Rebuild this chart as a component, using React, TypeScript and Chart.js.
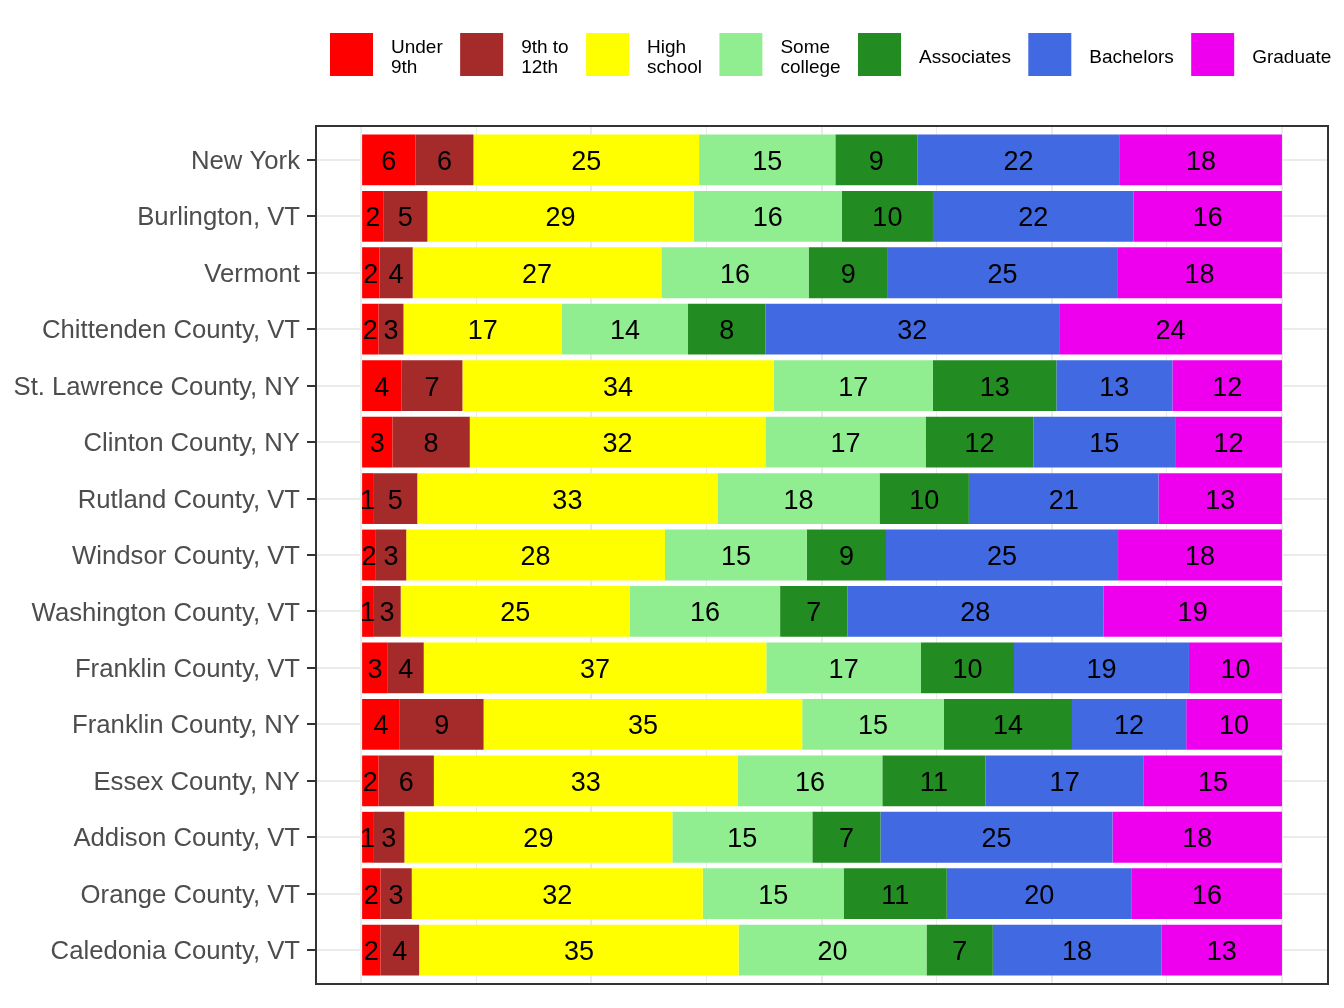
import React, { useEffect, useRef } from "react";
import { Chart, registerables } from "chart.js";

Chart.register(...registerables);

const categories = [
  "New York",
  "Burlington, VT",
  "Vermont",
  "Chittenden County, VT",
  "St. Lawrence County, NY",
  "Clinton County, NY",
  "Rutland County, VT",
  "Windsor County, VT",
  "Washington County, VT",
  "Franklin County, VT",
  "Franklin County, NY",
  "Essex County, NY",
  "Addison County, VT",
  "Orange County, VT",
  "Caledonia County, VT",
];

const seriesNames = [
  ["Under", "9th"],
  ["9th to", "12th"],
  ["High", "school"],
  ["Some", "college"],
  ["Associates"],
  ["Bachelors"],
  ["Graduate"],
];

const seriesColors = ["#FF0000", "#A52A2A", "#FFFF00", "#90EE90", "#228B22", "#4169E1", "#EE00EE"];

const under9th = [5.9, 2.4, 2.0, 1.9, 4.4, 3.4, 1.3, 1.6, 1.3, 2.9, 4.2, 1.9, 1.3, 2.1, 2.1];
const grade9to12 = [6.3, 4.8, 3.6, 2.7, 6.6, 8.4, 4.8, 3.3, 3.0, 3.9, 9.1, 6.0, 3.4, 3.4, 4.2];
const highSchool = [24.5, 28.9, 27.0, 17.2, 33.8, 32.1, 32.6, 28.1, 24.9, 37.2, 34.6, 33.0, 29.1, 31.6, 34.7];
const someCollege = [14.8, 16.1, 16.0, 13.7, 17.3, 17.4, 17.6, 15.4, 16.3, 16.8, 15.4, 15.7, 15.2, 15.3, 20.4];
const associates = [8.9, 9.9, 8.6, 8.4, 13.4, 11.7, 9.7, 8.6, 7.3, 10.1, 13.9, 11.2, 7.4, 11.2, 7.2];
const bachelors = [22.0, 21.8, 24.9, 31.9, 12.6, 15.4, 20.6, 25.2, 27.8, 19.0, 12.4, 17.2, 25.2, 20.1, 18.3];
const graduate = [17.6, 16.1, 17.9, 24.2, 11.9, 11.6, 13.4, 17.8, 19.4, 10.1, 10.4, 15.0, 18.4, 16.3, 13.1];

const seriesValues = [under9th, grade9to12, highSchool, someCollege, associates, bachelors, graduate];

const xGridTicks = [0, 12.5, 25, 37.5, 50, 62.5, 75, 87.5, 100];

const FONT = "'Liberation Sans', Arial, sans-serif";

export default function App() {
  const canvasRef = useRef<HTMLCanvasElement | null>(null);

  useEffect(() => {
    document.body.style.margin = "0";
    const canvas = canvasRef.current;
    if (!canvas) return;

    const labelPlugin = {
      id: "barLabels",
      afterDatasetsDraw(chart: any) {
        const ctx = chart.ctx;
        ctx.save();
        ctx.font = `27px ${FONT}`;
        ctx.fillStyle = "#000000";
        ctx.textAlign = "center";
        ctx.textBaseline = "middle";
        chart.data.datasets.forEach((ds: any, di: number) => {
          const meta = chart.getDatasetMeta(di);
          meta.data.forEach((el: any, i: number) => {
            const v = ds.data[i].x;
            const cx = (el.x + el.base) / 2;
            ctx.fillText(String(Math.round(v)), cx, el.y + 2.5);
          });
        });
        ctx.restore();
      },
    };

    const framePlugin = {
      id: "panelFrame",
      afterDraw(chart: any) {
        const { ctx, chartArea } = chart;
        ctx.save();
        ctx.strokeStyle = "#333333";
        ctx.lineWidth = 2;
        ctx.strokeRect(chartArea.left, chartArea.top, chartArea.right - chartArea.left, chartArea.bottom - chartArea.top);
        ctx.restore();
      },
    };

    const legendPlugin = {
      id: "customLegend",
      afterDraw(chart: any) {
        const ctx = chart.ctx;
        ctx.save();
        ctx.font = `19px ${FONT}`;
        ctx.textBaseline = "middle";
        ctx.textAlign = "left";
        const boxSize = 43;
        const boxTop = 33;
        const gapBefore = 18;
        const gapAfter = 17.4;
        const lineH = 20;
        let x = 330;
        seriesNames.forEach((lines, i) => {
          ctx.fillStyle = seriesColors[i];
          ctx.fillRect(x, boxTop, boxSize, boxSize);
          const tx = x + boxSize + gapBefore;
          const cy = boxTop + boxSize / 2 + 3;
          ctx.fillStyle = "#000000";
          let w = 0;
          lines.forEach((t, li) => {
            const y = cy + (li - (lines.length - 1) / 2) * lineH;
            ctx.fillText(t, tx, y);
            w = Math.max(w, ctx.measureText(t).width);
          });
          x = tx + w + gapAfter;
        });
        ctx.restore();
      },
    };

    const chart = new Chart(canvas, {
      type: "bar",
      data: {
        datasets: seriesValues.map((vals, si) => ({
          label: seriesNames[si].join(" "),
          data: vals.map((v, i) => ({ x: v, y: i + 1 })),
          backgroundColor: seriesColors[si],
          borderWidth: 0,
          categoryPercentage: 0.9,
          barPercentage: 1.0,
        })),
      },
      options: {
        animation: false,
        responsive: true,
        maintainAspectRatio: false,
        indexAxis: "y",
        layout: { padding: { top: 126, right: 16, bottom: 24, left: 0 } },
        plugins: {
          legend: { display: false },
          tooltip: { enabled: false },
        },
        scales: {
          x: {
            type: "linear",
            min: -4.9,
            max: 105,
            stacked: true,
            offset: false,
            afterBuildTicks: (scale: any) => {
              scale.ticks = xGridTicks.map((v) => ({ value: v }));
            },
            afterFit: (scale: any) => {
              scale.height = 0;
            },
            ticks: { display: false },
            border: { display: false },
            grid: {
              offset: false,
              drawTicks: false,
              color: "#EBEBEB",
              lineWidth: (c: any) => (c.tick && c.tick.value % 25 === 0 ? 2 : 1),
            },
          },
          y: {
            type: "linear",
            min: 0.4,
            max: 15.6,
            reverse: true,
            stacked: true,
            offset: false,
            afterBuildTicks: (scale: any) => {
              scale.ticks = categories.map((_, i) => ({ value: i + 1 }));
            },
            afterFit: (scale: any) => {
              scale.width = 316;
            },
            border: { display: false },
            grid: {
              offset: false,
              color: "#EBEBEB",
              lineWidth: 2,
              drawTicks: true,
              tickLength: 9,
              tickColor: "#333333",
              tickWidth: 2,
            },
            ticks: {
              autoSkip: false,
              padding: 7,
              labelOffset: 2,
              color: "#4D4D4D",
              font: { family: FONT, size: 25.7 },
              callback: (v: any) => categories[Math.round(Number(v)) - 1] ?? "",
            },
          },
        },
      },
      plugins: [labelPlugin, framePlugin, legendPlugin],
    } as any);

    return () => {
      chart.destroy();
    };
  }, []);

  return (
    <div style={{ width: 1344, height: 1008, position: "relative", background: "#FFFFFF" }}>
      <canvas ref={canvasRef} />
    </div>
  );
}
